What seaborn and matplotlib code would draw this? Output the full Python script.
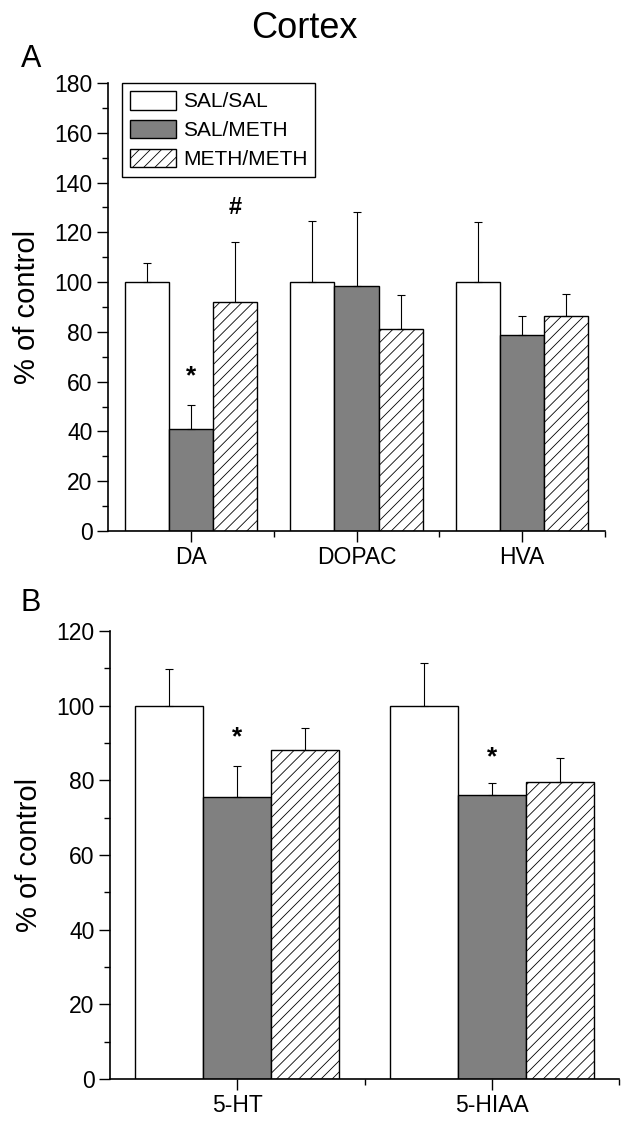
import numpy as np
import pandas as pd
import matplotlib
matplotlib.use("Agg")
import matplotlib.pyplot as plt
from matplotlib.patches import Patch
from matplotlib.ticker import MultipleLocator, FixedLocator
import seaborn as sns

sns.set_style("ticks")
plt.rcParams['font.family'] = ['Liberation Sans', 'DejaVu Sans']
plt.rcParams['hatch.linewidth'] = 0.6
for k in ["text.color", "axes.labelcolor", "xtick.color", "ytick.color"]:
    plt.rcParams[k] = "black"

### groups
groups = ["SAL/SAL", "SAL/METH", "METH/METH"]
colors = ["white", "#808080", "white"]
hatches = ["", "", "///"]

### panel A - dopamine + metabolites
cats_a = ["DA", "DOPAC", "HVA"]
sal_sal_a = [100, 100, 100]
sal_meth_a = [41.1, 98.3, 78.9]
meth_meth_a = [92.1, 81.3, 86.4]
err_sal_sal_a = [7.7, 24.5, 24.1]
err_sal_meth_a = [9.7, 29.8, 7.6]
err_meth_meth_a = [24.2, 13.5, 9.0]
# (symbol, category index, group index, y)
marks_a = [("*", 0, 1, 62.0), ("#", 0, 2, 130.0)]

### panel B - serotonin + metabolite
cats_b = ["5-HT", "5-HIAA"]
sal_sal_b = [100, 100]
sal_meth_b = [75.5, 76.1]
meth_meth_b = [88.1, 79.6]
err_sal_sal_b = [9.8, 11.4]
err_sal_meth_b = [8.3, 3.3]
err_meth_meth_b = [5.9, 6.3]
marks_b = [("*", 0, 1, 91.5), ("*", 1, 1, 86.2)]


def draw_panel(ax, cats, means, errs, ymax, marks):
    df = pd.DataFrame({
        "cat": np.tile(cats, len(groups)),
        "group": np.repeat(groups, len(cats)),
        "val": np.concatenate(means),
    })
    sns.barplot(data=df, x="cat", y="val", hue="group", hue_order=groups,
                palette=dict(zip(groups, colors)), edgecolor="black",
                linewidth=1, width=0.8, errorbar=None, saturation=1,
                legend=False, ax=ax)
    centers = {}
    bar_conts = list(ax.containers)
    for i, cont in enumerate(bar_conts):
        xs = []
        hs = []
        for bar in cont:
            bar.set_hatch(hatches[i])
            xs.append(bar.get_x() + bar.get_width() / 2)
            hs.append(bar.get_height())
        centers[i] = xs
        ax.errorbar(xs, hs, yerr=[np.zeros(len(hs)), errs[i]], fmt="none",
                    ecolor="black", elinewidth=0.8, capsize=3, capthick=0.8)
    for sym, ci, gi, y in marks:
        ax.text(centers[gi][ci], y, sym, ha="center", va="center",
                fontsize=19 if sym == "*" else 17, fontweight="bold")

    n = len(cats)
    ax.set_xlim(-0.5, n - 0.5)
    ax.set_ylim(0, ymax)
    ax.yaxis.set_major_locator(MultipleLocator(20))
    ax.yaxis.set_minor_locator(MultipleLocator(10))
    ax.xaxis.set_minor_locator(FixedLocator(np.arange(0.5, n, 1)))
    ax.tick_params(which="major", direction="out", length=8, width=1, labelsize=16.5, pad=3)
    ax.tick_params(which="minor", direction="out", length=4, width=1)
    ax.set_xlabel("")
    ax.set_ylabel("% of control", fontsize=21, labelpad=10)
    sns.despine(ax=ax)
    for s in ["left", "bottom"]:
        ax.spines[s].set_linewidth(1.2)
        ax.spines[s].set_color("black")


fig = plt.figure(figsize=(6.34, 11.26), dpi=100)
W, H = 634, 1126
ax_a = fig.add_axes([108 / W, 1 - 531 / H, (605 - 108) / W, (531 - 83) / H])
ax_b = fig.add_axes([110 / W, 1 - 1079 / H, (619 - 110) / W, (1079 - 631) / H])

draw_panel(ax_a, cats_a, [sal_sal_a, sal_meth_a, meth_meth_a],
           [err_sal_sal_a, err_sal_meth_a, err_meth_meth_a], 180, marks_a)
draw_panel(ax_b, cats_b, [sal_sal_b, sal_meth_b, meth_meth_b],
           [err_sal_sal_b, err_sal_meth_b, err_meth_meth_b], 120, marks_b)

handles = [Patch(facecolor=c, edgecolor="black", hatch=h, linewidth=1)
           for c, h in zip(colors, hatches)]
leg = ax_a.legend(handles, groups, loc="upper left", bbox_to_anchor=(0.028, 1.0),
                  borderaxespad=0, frameon=True, fancybox=False, edgecolor="black",
                  framealpha=1, fontsize=15, handlelength=2.2, handleheight=1.0,
                  labelspacing=0.4, handletextpad=0.35, borderpad=0.38)
leg.get_frame().set_linewidth(1)

fig.text(304 / W, 1 - 29 / H, "Cortex", ha="center", va="center", fontsize=26)
fig.text(31 / W, 1 - 59 / H, "A", ha="center", va="center", fontsize=22)
fig.text(31 / W, 1 - 603 / H, "B", ha="center", va="center", fontsize=22)

fig.savefig("out.png", dpi=100)
